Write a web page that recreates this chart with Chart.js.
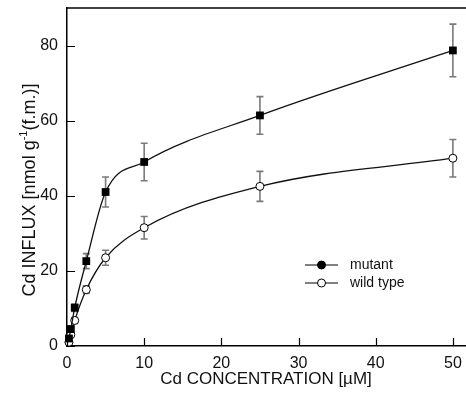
<!DOCTYPE html>
<html>
<head>
<meta charset="utf-8">
<script src="https://cdn.jsdelivr.net/npm/chart.js@4.4.1/dist/chart.umd.min.js"></script>
<style>
  html, body { margin: 0; padding: 0; background: #fff; }
  canvas { display: block; }
</style>
</head>
<body>
<canvas id="c" width="466" height="396"></canvas>
<script>
// ---- data ----
const concentrations = [0.25, 0.5, 1, 2.5, 5, 10, 25, 50];        // µM
const mutantInflux   = [2.0, 4.5, 10.2, 22.6, 41.0, 49.0, 61.4, 78.7];
const mutantError    = [0.5, 0.8, 1.0, 2.0, 4.0, 5.0, 5.0, 7.0];
const wildTypeInflux = [1.0, 3.0, 6.8, 15.0, 23.5, 31.5, 42.5, 50.0];
const wildTypeError  = [0.3, 0.5, 0.8, 1.0, 2.0, 3.0, 4.0, 5.0];
const xTicks = [0, 10, 20, 30, 40, 50];
const yTicks = [0, 20, 40, 60, 80];
const seriesNames = ['mutant', 'wild type'];
const xTitle = 'Cd CONCENTRATION [µM]';
const yTitleParts = ['Cd INFLUX [nmol g', '-1', '(f.m.)]'];

const FONT = "'Liberation Sans', Arial, sans-serif";
const errorsByDataset = [mutantError, wildTypeError];

const decor = {
  id: 'decor',
  beforeDatasetsDraw(chart) {
    const ctx = chart.ctx, xs = chart.scales.x, ys = chart.scales.y;
    ctx.save();
    ctx.strokeStyle = '#7a7a7a';
    ctx.lineWidth = 1.6;
    chart.data.datasets.forEach((ds, di) => {
      const errs = errorsByDataset[di];
      ds.data.forEach((p, j) => {
        const e = errs[j];
        const px = xs.getPixelForValue(p.x);
        const yt = ys.getPixelForValue(p.y + e);
        const yb = ys.getPixelForValue(p.y - e);
        ctx.beginPath();
        ctx.moveTo(px, yt); ctx.lineTo(px, yb);
        if (yb - yt > 6) {
          ctx.moveTo(px - 3.5, yt); ctx.lineTo(px + 3.5, yt);
          ctx.moveTo(px - 3.5, yb); ctx.lineTo(px + 3.5, yb);
        }
        ctx.stroke();
      });
    });
    ctx.restore();
  },
  afterDraw(chart) {
    const ctx = chart.ctx, xs = chart.scales.x, ys = chart.scales.y;
    const a = chart.chartArea;
    ctx.save();
    ctx.strokeStyle = '#000';
    ctx.lineWidth = 1.5;
    // top frame line
    ctx.beginPath();
    ctx.moveTo(a.left, a.top); ctx.lineTo(chart.width, a.top);
    ctx.stroke();
    // inward tick marks
    ctx.lineWidth = 1.2;
    ctx.beginPath();
    yTicks.forEach(v => {
      const py = Math.round(ys.getPixelForValue(v)) + 0.5;
      ctx.moveTo(a.left, py); ctx.lineTo(a.left + 8, py);
    });
    xTicks.forEach(v => {
      const px = Math.round(xs.getPixelForValue(v)) + 0.5;
      ctx.moveTo(px, a.bottom); ctx.lineTo(px, a.bottom - 8);
    });
    ctx.stroke();

    // axis titles
    ctx.fillStyle = '#111';
    ctx.font = '17px ' + FONT;
    ctx.textAlign = 'center';
    ctx.textBaseline = 'middle';
    ctx.fillText(xTitle, 266, 379);

    ctx.save();
    ctx.translate(30, 190);
    ctx.rotate(-Math.PI / 2);
    ctx.textAlign = 'left';
    ctx.textBaseline = 'middle';
    const big = '18px ' + FONT, small = '11px ' + FONT;
    ctx.font = big; const w1 = ctx.measureText(yTitleParts[0]).width;
    ctx.font = small; const w2 = ctx.measureText(yTitleParts[1]).width;
    ctx.font = big; const w3 = ctx.measureText(yTitleParts[2]).width;
    let x0 = -(w1 + w2 + w3) / 2;
    ctx.font = big; ctx.fillText(yTitleParts[0], x0, 0);
    ctx.font = small; ctx.fillText(yTitleParts[1], x0 + w1, -6);
    ctx.font = big; ctx.fillText(yTitleParts[2], x0 + w1 + w2, 0);
    ctx.restore();

    // legend
    const legendRows = [
      { y: 265, fill: '#000' },
      { y: 283, fill: '#fff' }
    ];
    ctx.font = '14px ' + FONT;
    ctx.textAlign = 'left';
    ctx.textBaseline = 'middle';
    legendRows.forEach((r, i) => {
      ctx.strokeStyle = '#000';
      ctx.lineWidth = 1;
      ctx.beginPath();
      ctx.moveTo(305, r.y); ctx.lineTo(338, r.y);
      ctx.stroke();
      ctx.beginPath();
      ctx.arc(321.5, r.y, 4, 0, Math.PI * 2);
      ctx.fillStyle = r.fill;
      ctx.fill();
      ctx.stroke();
      ctx.fillStyle = '#111';
      ctx.fillText(seriesNames[i], 350, r.y);
    });
    ctx.restore();
  }
};

new Chart(document.getElementById('c'), {
  type: 'line',
  data: {
    datasets: [
      {
        label: seriesNames[0],
        data: concentrations.map((x, i) => ({ x, y: mutantInflux[i] })),
        borderColor: '#111',
        borderWidth: 1.3,
        backgroundColor: '#000',
        pointStyle: 'rect',
        pointRadius: 5.5,
        pointBorderWidth: 0,
        pointBackgroundColor: '#000',
        cubicInterpolationMode: 'monotone',
        clip: false,
        fill: false
      },
      {
        label: seriesNames[1],
        data: concentrations.map((x, i) => ({ x, y: wildTypeInflux[i] })),
        borderColor: '#111',
        borderWidth: 1.3,
        pointStyle: 'circle',
        pointRadius: 4,
        pointBorderWidth: 1,
        pointBorderColor: '#000',
        pointBackgroundColor: '#fff',
        cubicInterpolationMode: 'monotone',
        clip: false,
        fill: false
      }
    ]
  },
  options: {
    responsive: false,
    animation: false,
    events: [],
    layout: { autoPadding: false, padding: { top: 8, right: 0, left: 0, bottom: 0 } },
    plugins: { legend: { display: false }, tooltip: { enabled: false } },
    scales: {
      x: {
        type: 'linear',
        min: 0, max: 51.7,
        afterFit(s) { s.height = 50; s.paddingLeft = 0; s.paddingRight = 0; },
        afterBuildTicks(s) { s.ticks = xTicks.map(v => ({ value: v })); },
        grid: { display: false, drawTicks: false },
        border: { display: true, color: '#000', width: 1.5 },
        ticks: { color: '#111', font: { family: FONT, size: 16 }, padding: 8, maxRotation: 0 }
      },
      y: {
        type: 'linear',
        min: 0, max: 90,
        afterFit(s) { s.width = 67; s.paddingTop = 0; s.paddingBottom = 0; },
        afterBuildTicks(s) { s.ticks = yTicks.map(v => ({ value: v })); },
        grid: { display: false, drawTicks: false },
        border: { display: true, color: '#000', width: 1.5 },
        ticks: { color: '#111', font: { family: FONT, size: 16 }, padding: 9 }
      }
    }
  },
  plugins: [decor]
});
</script>
</body>
</html>
